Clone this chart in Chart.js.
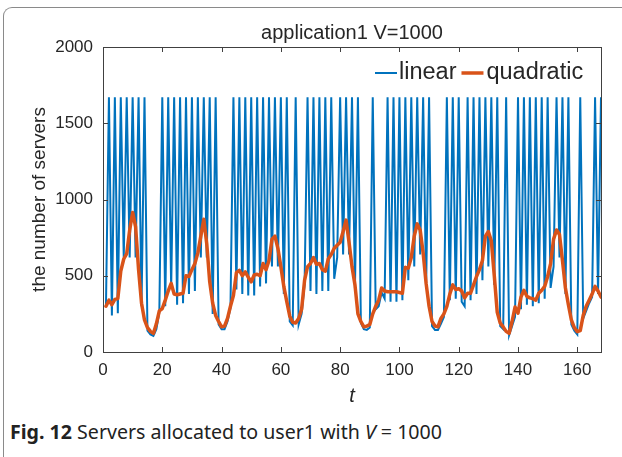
<!DOCTYPE html>
<html>
<head>
<meta charset="utf-8">
<script src="https://cdn.jsdelivr.net/npm/chart.js@4.4.1/dist/chart.umd.min.js"></script>
<style>
    html, body { margin: 0; padding: 0; background: #fff; }
    #wrap { position: relative; width: 622px; height: 457px; overflow: hidden; }
    #frame {
        position: absolute; left: 3px; top: 7px; width: 700px; height: 470px;
        border-left: 1px solid #8a8a8a; border-top: 1px solid #8a8a8a;
        border-top-left-radius: 9px;
    }
    #plot { position: absolute; left: 0; top: 0; }
    #caption {
        position: absolute; left: 10px; top: 419px; line-height: 26px;
        font-family: 'Noto Sans', 'Open Sans', sans-serif; font-size: 19.6px; color: #222;
        white-space: nowrap;
    }
    #caption b { font-weight: 700; }
</style>
</head>
<body>
<div id="wrap">
    <div id="frame"></div>
    <canvas id="plot" width="622" height="410"></canvas>
    <div id="caption"><b>Fig. 12</b> Servers allocated to user1 with <i>V</i> = 1000</div>
</div>
<script>
// 數據
const seriesNames = ['linear', 'quadratic'];
const xTicks = [0, 20, 40, 60, 80, 100, 120, 140, 160];
const yTicks = [0, 500, 1000, 1500, 2000];

const linear = [
    300, 1670, 240, 1670, 255, 1670, 620, 1670, 620, 1670,
    620, 1670, 300, 1670, 140, 115, 105, 150, 260, 1670,
    300, 1670, 420, 1670, 310, 1670, 320, 1670, 380, 1670,
    400, 1670, 620, 1670, 620, 1670, 250, 1670, 180, 150,
    150, 200, 290, 1670, 410, 1670, 380, 1670, 370, 1670,
    370, 1670, 430, 1670, 450, 1670, 560, 1670, 560, 1670,
    380, 1670, 200, 175, 1670, 180, 250, 440, 1670, 400,
    1670, 380, 1670, 400, 1670, 400, 1670, 480, 620, 1670,
    640, 1670, 640, 1670, 420, 1670, 190, 150, 145, 160,
    1670, 280, 300, 390, 350, 1670, 330, 1670, 330, 1670,
    340, 1670, 470, 1670, 560, 1670, 640, 1670, 420, 1670,
    170, 145, 145, 185, 230, 1670, 340, 1670, 350, 1670,
    330, 300, 1670, 340, 1670, 380, 1670, 470, 1670, 560,
    1670, 440, 1670, 170, 150, 1670, 110, 170, 230, 1670,
    280, 1670, 310, 1670, 300, 1670, 320, 1670, 350, 1670,
    420, 560, 1670, 620, 1670, 380, 1670, 180, 140, 115,
    1670, 220, 270, 320, 360, 1670, 380, 1670
];

const quadratic = [
    300, 340, 310, 345, 350, 530, 610, 645, 800, 915,
    820, 540, 320, 210, 160, 135, 122, 185, 270, 285,
    340, 400, 450, 380, 375, 380, 385, 500, 495, 540,
    580, 650, 760, 870, 710, 460, 320, 240, 200, 165,
    170, 220, 300, 370, 520, 535, 500, 525, 490, 460,
    505, 510, 500, 580, 540, 600, 740, 760, 680, 560,
    430, 330, 235, 195, 190, 220, 280, 470, 560, 580,
    620, 575, 580, 540, 530, 610, 640, 680, 700, 720,
    790, 865, 720, 560, 440, 250, 200, 165, 170, 180,
    250, 300, 340, 420, 400, 395, 395, 395, 395, 390,
    385, 555, 550, 620, 760, 840, 800, 650, 450, 300,
    200, 170, 165, 220, 250, 300, 380, 440, 410, 415,
    400, 355, 385, 385, 440, 495, 540, 600, 760, 790,
    730, 500, 260, 190, 165, 135, 122, 200, 295, 255,
    360, 405, 365, 355, 350, 340, 385, 405, 430, 495,
    580, 740, 800, 770, 600, 420, 310, 210, 160, 133,
    140, 240, 300, 340, 380, 430, 400, 360
];

// 時間 t = 1..168
const hours = linear.map((_, i) => i + 1);

const BLUE = '#0072BD';
const ORANGE = '#D95319';
const AXIS = '#404040';
const FONT = "'Liberation Sans', Arial, sans-serif";

Chart.defaults.font.family = FONT;
Chart.defaults.color = '#262626';

// 畫外框與向內刻度、圖例
const boxPlugin = {
    id: 'matlabBox',
    afterDatasetsDraw(chart) {
        const { ctx, chartArea: a, scales } = chart;
        ctx.save();
        ctx.strokeStyle = AXIS;
        ctx.lineWidth = 1;
        ctx.strokeRect(Math.round(a.left) + 0.5, Math.round(a.top) + 0.5,
            Math.round(a.right - a.left), Math.round(a.bottom - a.top));
        const tl = 5;
        ctx.beginPath();
        xTicks.forEach(v => {
            const px = Math.round(scales.x.getPixelForValue(v)) + 0.5;
            ctx.moveTo(px, a.bottom); ctx.lineTo(px, a.bottom - tl);
            ctx.moveTo(px, a.top); ctx.lineTo(px, a.top + tl);
        });
        yTicks.forEach(v => {
            const py = Math.round(scales.y.getPixelForValue(v)) + 0.5;
            ctx.moveTo(a.left, py); ctx.lineTo(a.left + tl, py);
            ctx.moveTo(a.right, py); ctx.lineTo(a.right - tl, py);
        });
        ctx.stroke();

        // 圖例
        const ly = a.top + 26;
        ctx.font = '23.5px ' + FONT;
        ctx.textBaseline = 'middle';
        ctx.fillStyle = '#262626';
        let lx = a.left + 272;
        ctx.strokeStyle = BLUE; ctx.lineWidth = 2;
        ctx.beginPath(); ctx.moveTo(lx, ly); ctx.lineTo(lx + 22, ly); ctx.stroke();
        ctx.fillText(seriesNames[0], lx + 24, ly);
        lx += 24 + ctx.measureText(seriesNames[0]).width + 5;
        ctx.strokeStyle = ORANGE; ctx.lineWidth = 3.5;
        ctx.beginPath(); ctx.moveTo(lx, ly); ctx.lineTo(lx + 22, ly); ctx.stroke();
        ctx.fillText(seriesNames[1], lx + 25, ly);
        ctx.restore();
    }
};

const plain = v => String(v);

const ctx = document.getElementById('plot').getContext('2d');
const chart = new Chart(ctx, {
    type: 'line',
    data: {
        datasets: [
            {
                label: seriesNames[0],
                data: hours.map((t, i) => ({ x: t, y: linear[i] })),
                borderColor: BLUE, borderWidth: 2, pointRadius: 0, tension: 0,
                order: 2
            },
            {
                label: seriesNames[1],
                data: hours.map((t, i) => ({ x: t, y: quadratic[i] })),
                borderColor: ORANGE, borderWidth: 3.5, pointRadius: 0, tension: 0,
                borderJoinStyle: 'round', borderCapStyle: 'round',
                order: 1
            }
        ]
    },
    options: {
        responsive: false,
        animation: false,
        events: [],
        layout: { padding: { left: 20, right: 21, top: 8, bottom: 0 } },
        plugins: {
            legend: { display: false },
            tooltip: { enabled: false },
            title: {
                display: true,
                text: 'application1 V=1000',
                fullSize: false,
                font: { size: 20, weight: 'normal' },
                color: '#262626',
                padding: { top: 13, bottom: 2 }
            }
        },
        scales: {
            x: {
                type: 'linear', min: 0, max: 168,
                afterBuildTicks: s => { s.ticks = xTicks.map(v => ({ value: v })); },
                afterFit: s => { s.height = 58; },
                grid: { display: false, drawTicks: false },
                border: { display: false },
                ticks: { font: { size: 17 }, padding: 8, maxRotation: 0, color: '#262626', callback: plain },
                title: {
                    display: true, text: 't',
                    font: { size: 20, style: 'italic' },
                    padding: { top: 0, bottom: 2 }, color: '#262626'
                }
            },
            y: {
                type: 'linear', min: 0, max: 2000,
                afterBuildTicks: s => { s.ticks = yTicks.map(v => ({ value: v })); },
                afterFit: s => { s.width = 83; },
                grid: { display: false, drawTicks: false },
                border: { display: false },
                ticks: { font: { size: 17 }, padding: 10, color: '#262626', callback: plain },
                title: {
                    display: true, text: 'the number of servers',
                    font: { size: 19 },
                    padding: { top: 8, bottom: 0 }, color: '#262626'
                }
            }
        }
    },
    plugins: [boxPlugin]
});
</script>
</body>
</html>
